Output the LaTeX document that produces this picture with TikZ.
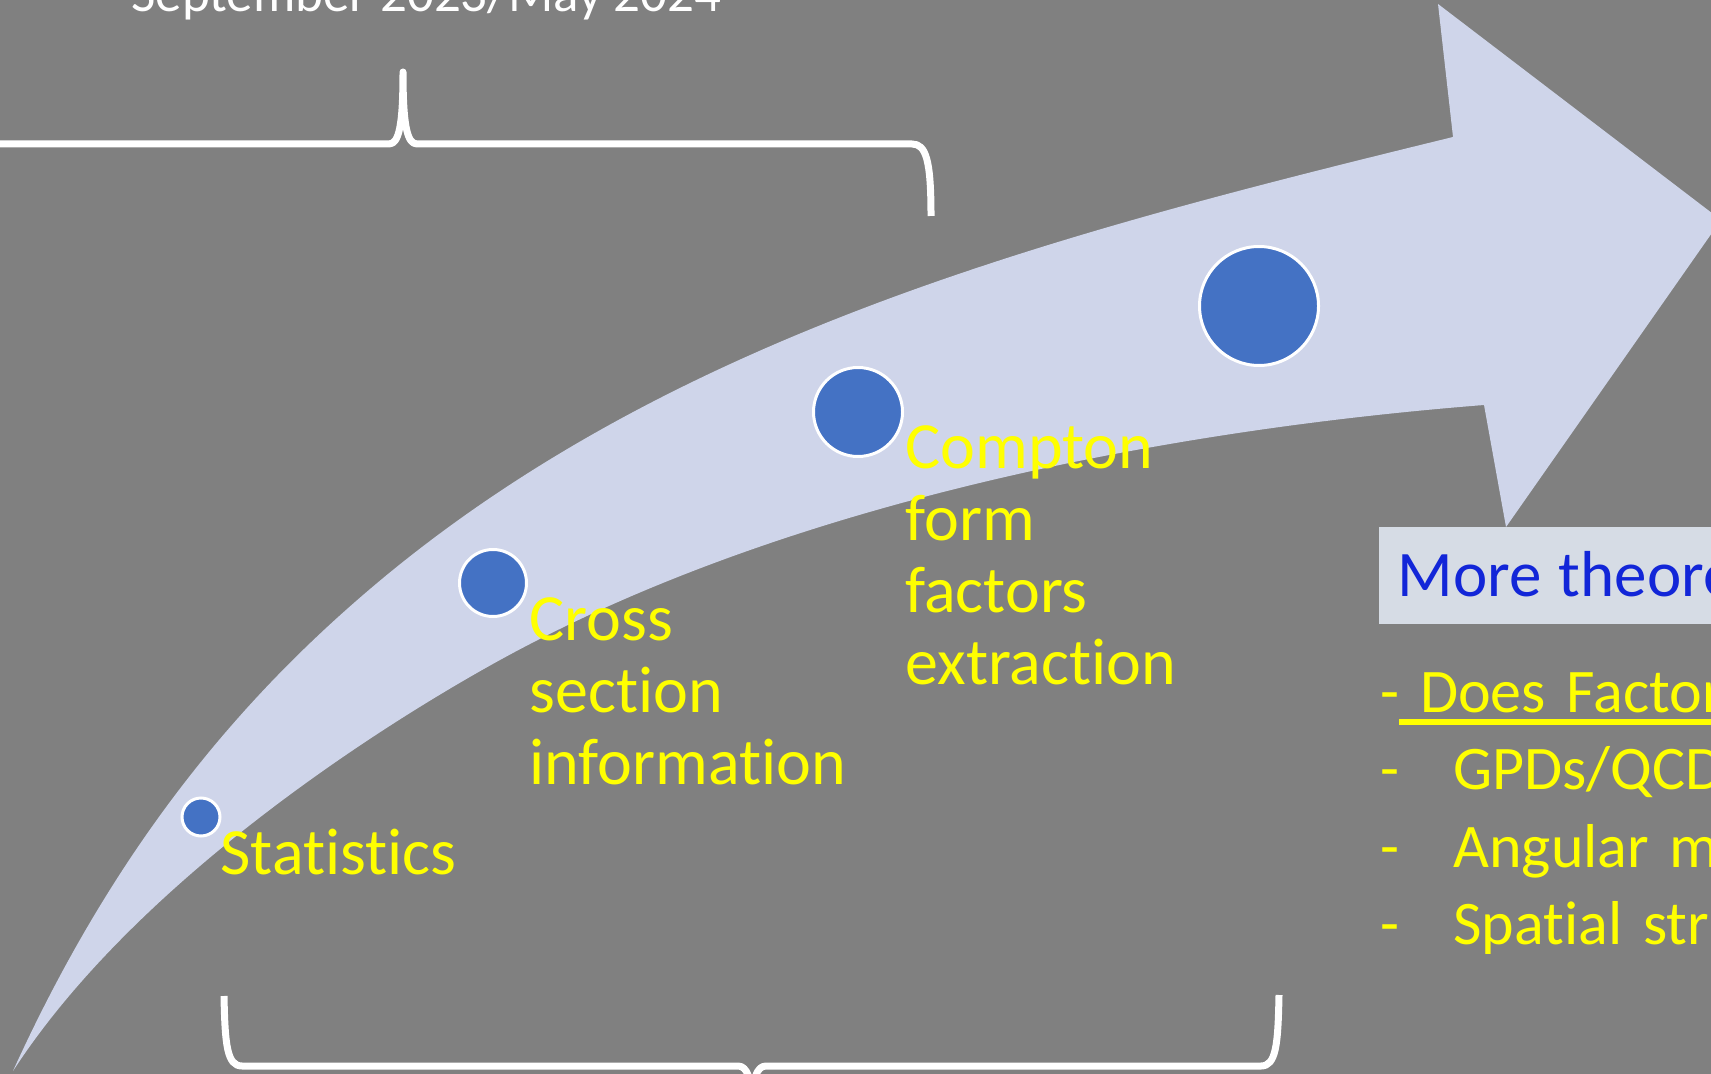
\documentclass[tikz,border=0pt]{standalone}
\usepackage{fontspec}
\setmainfont{Carlito}[Ligatures={NoCommon,NoContextual}]

\definecolor{bggray}{HTML}{808080}
\definecolor{arrowfill}{HTML}{CFD5EA}
\definecolor{dotblue}{HTML}{4472C4}
\definecolor{boxfill}{HTML}{D6DCE5}
\definecolor{theoryblue}{RGB}{18,38,216}
\definecolor{labelyellow}{HTML}{FFFF00}

\tikzset{
  dot/.style={circle, fill=dotblue, draw=white, line width=1.5pt, inner sep=0pt},
  steplabel/.style={text=labelyellow, font=\fontsize{33}{36}\selectfont,
    anchor=base west, inner sep=0pt, text width=220pt, align=left},
  datelabel/.style={text=white, font=\fontsize{26.5}{30}\selectfont,
    anchor=base west, inner sep=0pt},
  brace/.style={draw=white, line width=3.5pt, line join=round},
  theorybox/.style={fill=boxfill, text=theoryblue, font=\fontsize{32.5}{36}\selectfont,
    anchor=north west, inner ysep=0pt, inner xsep=9pt, text height=34.5pt,
    text depth=14pt, text width=200pt,
    execute at begin node={\spaceskip=0.27em\relax}},
  itemlist/.style={text=labelyellow, font=\fontsize{31}{38.8}\selectfont,
    anchor=base west, inner sep=0pt, text width=220pt}
}

\begin{document}
\begin{tikzpicture}[x=0.5pt, y=-0.5pt]
\useasboundingbox (0,0) rectangle (1711,1074);
\clip (0,0) rectangle (1711,1074);
\fill[bggray] (0,0) rectangle (1711,1074);

% curved timeline arrow: upper edge, arrowhead, lower edge back to the tail
\fill[arrowfill] (13,1071)
  .. controls (123,829) and (258,681) .. (388,574)
  .. controls (688,328) and (1073,230) .. (1453,137)
  -- (1438,4) -- (1721,220) -- (1506,527) -- (1484,405)
  .. controls (1154,431) and (780,506) .. (500,660)
  .. controls (370,731.5) and (133,886) .. (13,1071)
  -- cycle;

% braces
\draw[brace] (-10,144) -- (389,144) .. controls (399,144) and (403,125) .. (403,72)
  .. controls (403,125) and (407,144) .. (417,144) -- (912,144)
  .. controls (926,144) and (931,160) .. (931,216);
\draw[brace] (224,996) .. controls (225,1045) and (227,1066) .. (242,1066) -- (738,1066)
  .. controls (747,1066) and (752,1078) .. (752,1110)
  .. controls (752,1078) and (757,1066) .. (766,1066) -- (1261,1066)
  .. controls (1276,1066) and (1278,1045) .. (1279,995);

% milestones
\node[dot, minimum size=19pt]   (d1) at (201,817) {};
\node[dot, minimum size=33.5pt] (d2) at (493,583) {};
\node[dot, minimum size=44.5pt] (d3) at (858,412) {};
\node[dot, minimum size=59.5pt] (d4) at (1259,306) {};

% labels
\node[datelabel] (period) at (131,12) {September 2023/May 2024};
\node[steplabel] (stat) at (220,874) {Statistics};
\node[steplabel] (xsec) at (529,640) {Cross\\section\\information};
\node[steplabel] (cff) at (905,468) {Compton\\form\\factors\\extraction};

% outlook box and questions
\node[theorybox] (theory) at (1379,527) {More theore};
\node[itemlist] (questions) at (1380,712)
  {-\rlap{\rule[-6.5pt]{160pt}{3pt}} Does Factor\\
   \makebox[36.5pt][l]{-}GPDs/QCD\\
   \makebox[36.5pt][l]{-}Angular m\\
   \makebox[36.5pt][l]{-}Spatial str};
\end{tikzpicture}
\end{document}
